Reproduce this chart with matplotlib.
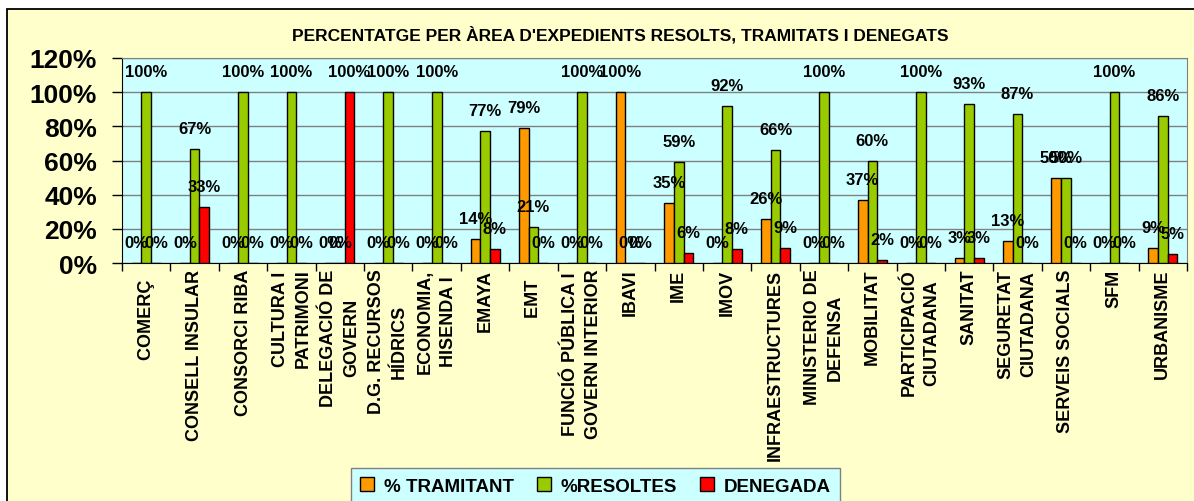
import matplotlib
matplotlib.use("Agg")
import matplotlib.pyplot as plt
from matplotlib.patches import Rectangle
import numpy as np

# data (values in %)
areas = [
    "COMERÇ  ", "CONSELL INSULAR", "CONSORCI RIBA", "CULTURA I\nPATRIMONI",
    "DELEGACIÓ DE\nGOVERN", "D.G. RECURSOS\nHÍDRICS", "ECONOMIA,\nHISENDA I",
    "EMAYA", "EMT  ", "FUNCIÓ PÚBLICA I\nGOVERN INTERIOR", "IBAVI", "IME", "IMOV",
    "INFRAESTRUCTURES", "MINISTERIO DE\nDEFENSA", "MOBILITAT",
    "PARTICIPACIÓ\nCIUTADANA", "SANITAT", "SEGURETAT\nCIUTADANA",
    "SERVEIS SOCIALS", "SFM", "URBANISME",
]
tramitant = [0, 0, 0, 0, 0, 0, 0, 14, 79, 0, 100, 35, 0, 26, 0, 37, 0, 3, 13, 50, 0, 9]
resoltes = [100, 67, 100, 100, 0, 100, 100, 77, 21, 100, 0, 59, 92, 66, 100, 60, 100, 93, 87, 50, 100, 86]
denegada = [0, 33, 0, 0, 100, 0, 0, 8, 0, 0, 0, 6, 8, 9, 0, 2, 0, 3, 0, 0, 0, 5]
series_names = ["% TRAMITANT", "%RESOLTES", "DENEGADA"]
series_colors = ["#FF9900", "#99CC00", "#FF0000"]

plt.rcParams["font.family"] = ["Liberation Sans", "DejaVu Sans"]
plt.rcParams["font.weight"] = "bold"

W, H = 1194, 502
fig = plt.figure(figsize=(W / 100, H / 100), dpi=100, facecolor="white")

# chart area background with border
fig.patches.append(Rectangle((7 / W, -0.1), 1.2, 1.1 - 10 / H, transform=fig.transFigure,
                             facecolor="#FFFFCC", edgecolor="black", linewidth=1.3, zorder=-10))

# plot area in pixels
left, right, top, bottom = 122, 1187, 59, 264
ax = fig.add_axes([left / W, 1 - bottom / H, (right - left) / W, (bottom - top) / H])
ax.set_zorder(2)
ax.set_facecolor("#CCFFFF")

x = np.arange(len(areas))
bw = 0.2
for i, (vals, name, col) in enumerate(zip([tramitant, resoltes, denegada], series_names, series_colors)):
    bars = ax.bar(x + (i - 1) * bw, vals, width=bw, color=col, edgecolor="black",
                  linewidth=1, label=name, zorder=3)
    for b, v in zip(bars, vals):
        ax.annotate(f"{v}%", (b.get_x() + b.get_width() / 2, v), xytext=(0, 11.5),
                    textcoords="offset points", ha="center", va="baseline",
                    fontsize=12, fontweight="bold", zorder=5)

ax.set_xlim(-0.5, len(areas) - 0.5)
ax.set_ylim(0, 120)
ax.set_yticks(range(0, 121, 20))
ax.set_yticklabels([f"{v}%" for v in range(0, 121, 20)], fontsize=19, fontweight="bold")
ax.yaxis.grid(True, color="#808080", linewidth=1, zorder=1)
ax.set_axisbelow(True)

ax.set_xticks(x)
ax.set_xticklabels(areas, rotation=90, fontsize=13, fontweight="bold",
                   ha="center", va="top", multialignment="center", linespacing=1.45)
ax.set_xticks(np.arange(-0.5, len(areas), 1), minor=True)
ax.tick_params(axis="x", which="major", length=0, pad=4)
ax.tick_params(axis="x", which="minor", length=6, width=1, color="black", direction="out")
ax.tick_params(axis="y", length=7, width=1, color="black", pad=11)

for s in ["top", "right"]:
    ax.spines[s].set_color("#808080")
for s in ["left", "bottom"]:
    ax.spines[s].set_color("black")

fig.text(620 / W, 1 - 35 / H, "PERCENTATGE PER ÀREA D'EXPEDIENTS RESOLTS, TRAMITATS I DENEGATS",
         ha="center", va="center", fontsize=12.5, fontweight="bold")

handles, labels = ax.get_legend_handles_labels()
leg = fig.legend(handles, labels, loc="upper left",
                 bbox_to_anchor=(351 / W, 1 - 469 / H, (840 - 351) / W, 0), mode="expand",
                 ncol=3, frameon=True, fancybox=False, facecolor="#CCFFFF",
                 edgecolor="#808080", framealpha=1, handlelength=0.75, handleheight=0.75,
                 handletextpad=0.5, borderpad=0.5, borderaxespad=0,
                 prop={"weight": "bold", "size": 13.5})
leg.get_frame().set_linewidth(1)

fig.savefig("out.png", dpi=100, facecolor=fig.get_facecolor())
